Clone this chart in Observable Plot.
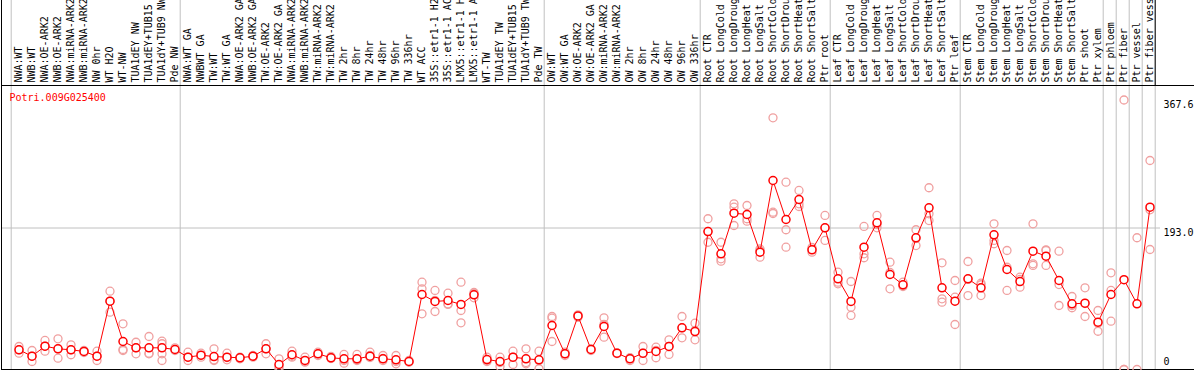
<!DOCTYPE html>
<html><head><meta charset="utf-8">
<script src="https://cdn.jsdelivr.net/npm/d3@7"></script>
<script src="https://cdn.jsdelivr.net/npm/@observablehq/plot@0.6"></script>
<style>
html,body{margin:0;padding:0;background:#fff;}
#chart svg{display:block;}
</style></head><body><div id="chart"></div>
<script>
const geneId = "Potri.009G025400";

const samples = [
"NWA:WT","NWB:WT","NWA:OE-ARK2","NWB:OE-ARK2","NWA:miRNA-ARK2","NWB:miRNA-ARK2","NW 0hr","WT H2O","WT-NW","TUA1dEY NW","TUA1dEY+TUB15","TUA1dY+TUB9 NW","Pde NW",
"NWA:WT GA","NWBWT GA","TW:WT","TW:WT GA","NWA:OE-ARK2 GA","NWB:OE-ARK2 GA","TW:OE-ARK2","TW:OE-ARK2 GA","NWA:miRNA-ARK2","NWB:miRNA-ARK2","TW:miRNA-ARK2","TW:miRNA-ARK2","TW 2hr","TW 8hr","TW 24hr","TW 48hr","TW 96hr","TW 336hr","WT ACC","35S::etr1-1 H2O","35S::etr1-1 ACC","LMX5::etr1-1 H2O","LMX5::etr1-1 ACC","WT-TW","TUA1dEY TW","TUA1dEY+TUB15","TUA1dY+TUB9 TW","Pde TW",
"OW:WT","OW:WT GA","OW:OE-ARK2","OW:OE-ARK2 GA","OW:miRNA-ARK2","OW:miRNA-ARK2","OW 2hr","OW 8hr","OW 24hr","OW 48hr","OW 96hr","OW 336hr",
"Root CTR","Root LongCold","Root LongDrought","Root LongHeat","Root LongSalt","Root ShortCold","Root ShortDrought","Root ShortHeat","Root ShortSalt","Ptr root",
"Leaf CTR","Leaf LongCold","Leaf LongDrought","Leaf LongHeat","Leaf LongSalt","Leaf ShortCold","Leaf ShortDrought","Leaf ShortHeat","Leaf ShortSalt","Ptr leaf",
"Stem CTR","Stem LongCold","Stem LongDrought","Stem LongHeat","Stem LongSalt","Stem ShortCold","Stem ShortDrought","Stem ShortHeat","Stem ShortSalt","Ptr shoot","Ptr xylem",
"Ptr phloem","Ptr fiber","Ptr vessel","Ptr fiber vessel"
];

const means = [
26.9, 18.1, 31.8, 28.2, 26.9, 24.6, 18.1, 93.2, 38.2, 29.6, 29.6, 29.6, 27.3,
16.8, 19.5, 17.7, 16.8, 16.0, 18.1, 28.2, 6.8, 20.1, 12.3, 21.4, 16.0, 14.6, 14.6, 18.1, 14.6, 13.2, 10.9, 102.3, 92.8, 94.1, 88.7, 101.9, 13.6, 10.9, 16.8, 14.6, 13.2,
60.0, 21.4, 73.0, 27.3, 58.7, 22.2, 14.6, 22.2, 24.6, 31.4, 56.9, 51.8,
188.2, 157.8, 213.2, 211.4, 160.0, 257.8, 204.6, 231.9, 163.3, 193.3,
123.7, 92.8, 166.8, 200.1, 129.6, 115.5, 179.6, 220.6, 111.4, 93.2,
123.7, 111.4, 183.7, 136.4, 120.0, 161.4, 154.5, 121.4, 89.6, 90.4, 64.5,
102.3, 122.5, 89.6, 221.4
];

const replicates = [
[31.4,26.9,22.2],[25.9,18.1,10.9],[39.6,31.8,25.0],[41.9,28.2,15.4],[33.7,26.9,20.1],[25.9,24.6,23.2],[25.0,18.1,12.3],[106.8,93.2,78.2],[62.3,27.3,25.9],[37.2,29.6,21.4],[45.0,22.2,21.4],[38.6,35.1,21.4,12.3],[29.6,27.3,25.9],
[23.6,16.8,12.3],[22.2,19.1,16.8],[28.2,13.2,12.3],[22.2,16.4,13.2],[16.8,16.0,14.6],[19.1,18.4,16.8],[35.1,28.2,21.4],[14.6,4.1,1.4],[25.0,18.1,16.8],[16.8,10.9,10.0],[23.6,21.4,19.1],[17.7,16.0,15.0],[20.5,12.3,8.6],[20.5,13.6,12.3],[23.6,19.1,16.4],[19.1,15.0,12.3],[19.1,10.9,7.8],[12.3,10.5,10.0],[119.1,110.1,76.0],[107.8,94.1,79.1],[104.1,89.6,88.7],[119.1,80.5,63.7],[105.0,103.3,97.8],[16.8,12.3,10.9],[16.8,9.5,4.1],[25.0,16.8,6.8],[28.2,9.5,7.8],[25.0,12.3,1.0],
[72.3,70.0,38.2],[23.6,21.4,19.1],[74.6,73.0,71.3],[28.2,27.3,25.9],[70.5,61.5,44.1],[22.8,22.2,21.6],[16.0,15.5,12.3],[31.4,22.2,12.3],[30.4,25.9,16.0],[40.5,31.4,20.5],[72.3,56.9,43.2],[63.2,53.2,40.5],
[205.6,188.2,173.6],[173.6,151.0,147.7],[226.0,221.4,196.4],[223.7,205.6,202.3],[164.4,162.3,153.2],[343.3,214.6,212.8],[255.5,190.6,166.8],[244.2,226.0,222.3],[166.4,163.7,160.0],[210.1,193.3,176.0],
[132.7,119.1,116.9],[120.0,85.0,73.7],[195.1,157.8,152.4],[210.1,197.8,193.3],[146.4,132.3,110.1],[119.1,114.6,113.2],[190.6,178.7,169.1],[247.9,212.4,203.2],[145.5,96.4,91.8],[121.4,98.6,61.4],
[147.3,122.9,100.9],[117.7,115.6,100.9],[198.7,176.0,171.5],[162.3,139.5,107.8],[125.9,122.8,112.3],[198.7,144.2,141.9],[163.3,162.3,141.9],[161.4,115.9,87.3],[99.6,87.3,84.2],[111.4,90.0,72.3],[80.5,63.2,52.2],
[131.9,107.8,65.9],[367.6,0,0],[179.7,0],[285.1,217.8,163.7]
];

// first sample index of each group (separators drawn between groups)
const groupStarts = [0, 13, 41, 53, 63, 73, 84, 85, 86, 87, 88];
const refValue = 193.0;
const maxValue = 367.6;

const meanTable = means.map((v, i) => ({i, v}));
const repTable = replicates.flatMap((arr, i) => arr.map(v => ({i, v})));
const separators = groupStarts.map(s => s - 0.6);

const W = 1194, H = 370;
const xDomain = [-1.346, -1.346 + 1193 / 13];
const mono = "DejaVu Sans Mono";

const chart = Plot.plot({
  width: W, height: H,
  marginTop: 85, marginLeft: 1, marginRight: 0, marginBottom: 1,
  style: {fontFamily: mono, fontSize: "10px", background: "white", color: "black"},
  x: {type: "linear", domain: xDomain, axis: null},
  y: {domain: [0, maxValue], insetTop: 14.5, axis: null},
  marks: [
    Plot.ruleY([refValue], {stroke: "#c0c0c0", insetRight: 34}),
    Plot.ruleX(separators, {stroke: "#c0c0c0", insetTop: -85}),
    Plot.frame({stroke: "black"}),
    Plot.ruleX([xDomain[0]], {stroke: "black", insetTop: -85}),
    Plot.ruleX([separators[separators.length - 1]], {stroke: "black", insetTop: -85, insetBottom: 284}),
    Plot.text(samples, {x: (d, i) => i, text: d => d, frameAnchor: "top", rotate: -90,
      textAnchor: "start", lineAnchor: "middle", dy: -3, fill: "black", fontFamily: mono, fontSize: 10}),
    Plot.text([geneId], {frameAnchor: "top-left", dx: 8, dy: 12, textAnchor: "start", lineAnchor: "middle",
      fill: "red", fontFamily: mono, fontSize: 10}),
    Plot.text([maxValue, refValue], {y: d => d, text: d => d.toFixed(1), frameAnchor: "right", dx: -31, dy: 5,
      textAnchor: "start", lineAnchor: "middle", fill: "black", fontFamily: mono, fontSize: 10}),
    Plot.text([0], {y: d => d, text: d => String(d), frameAnchor: "right", dx: -31, dy: -8,
      textAnchor: "start", lineAnchor: "middle", fill: "black", fontFamily: mono, fontSize: 10}),
    Plot.dot(repTable, {x: "i", y: "v", r: 4, stroke: "#f0a0a0", strokeWidth: 1.3, fill: "none"}),
    Plot.line(meanTable, {x: "i", y: "v", stroke: "red", strokeWidth: 1}),
    Plot.dot(meanTable, {x: "i", y: "v", r: 4, stroke: "red", strokeWidth: 1.5, fill: "white"})
  ]
});
document.getElementById("chart").append(chart);
</script></body></html>
